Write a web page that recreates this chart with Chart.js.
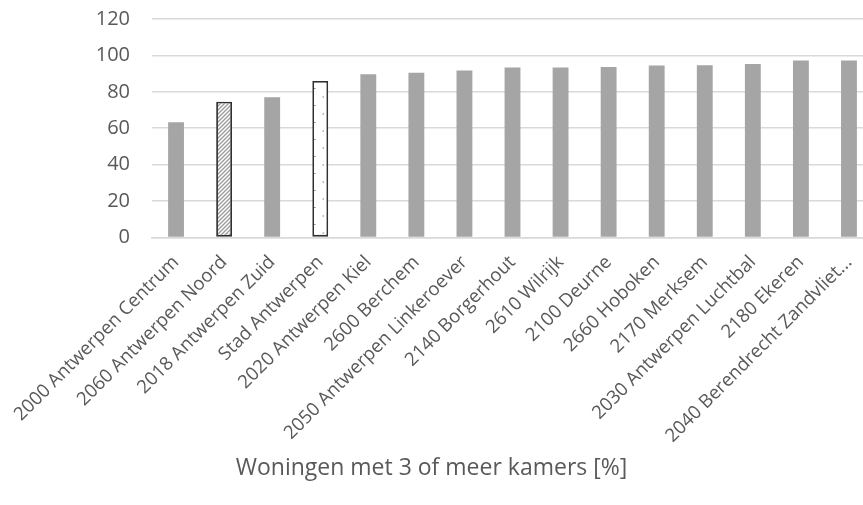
<!DOCTYPE html>
<html>
<head>
<meta charset="utf-8">
<script src="https://cdn.jsdelivr.net/npm/chart.js@4"></script>
<style>
  body { margin: 0; background: #fff; }
</style>
</head>
<body>
<canvas id="chart" width="863" height="505"></canvas>
<script>
// Data
const wijken = [
  "2000 Antwerpen Centrum", "2060 Antwerpen Noord", "2018 Antwerpen Zuid",
  "Stad Antwerpen", "2020 Antwerpen Kiel", "2600 Berchem",
  "2050 Antwerpen Linkeroever", "2140 Borgerhout", "2610 Wilrijk",
  "2100 Deurne", "2660 Hoboken", "2170 Merksem",
  "2030 Antwerpen Luchtbal", "2180 Ekeren", "2040 Berendrecht Zandvliet..."
];
const percentages = [63.3, 74.5, 77, 86, 89.6, 90.4, 91.7, 93.3, 93.3, 93.6, 94.4, 94.6, 95.3, 97.2, 97.2];
const yTicks = [0, 20, 40, 60, 80, 100, 120];
const axisTitle = "Woningen met 3 of meer kamers [%]";

// patterns for the two highlighted bars
function hatchPattern() {
  let c = document.createElement('canvas');
  c.width = 4; c.height = 4;
  let ctx = c.getContext('2d');
  ctx.fillStyle = '#ffffff';
  ctx.fillRect(0, 0, 4, 4);
  ctx.strokeStyle = '#9a9a9a';
  ctx.lineWidth = 1.3;
  ctx.beginPath();
  ctx.moveTo(-1, 5); ctx.lineTo(5, -1);
  ctx.moveTo(-3, 3); ctx.lineTo(3, -3);
  ctx.moveTo(1, 7); ctx.lineTo(7, 1);
  ctx.stroke();
  return ctx.createPattern(c, 'repeat');
}

function dotPattern() {
  let c = document.createElement('canvas');
  c.width = 18; c.height = 17;
  let ctx = c.getContext('2d');
  ctx.fillStyle = '#ffffff';
  ctx.fillRect(0, 0, 18, 17);
  ctx.fillStyle = '#7f7f7f';
  ctx.fillRect(8, 3, 1.5, 1);
  ctx.fillRect(16.5, 11.5, 1.5, 1);
  return ctx.createPattern(c, 'repeat');
}

let fills = wijken.map(function (w, i) {
  if (i === 1) return hatchPattern();
  if (i === 3) return dotPattern();
  return '#a5a5a5';
});
let borders = wijken.map(function (w, i) {
  return (i === 1 || i === 3) ? '#303030' : '#a5a5a5';
});
let borderWidths = wijken.map(function (w, i) {
  return (i === 1 || i === 3) ? 1.8 : 0;
});

let textColor = '#595959';
let family = "'Open Sans', sans-serif";

// the original picture is cropped on the right: let the plot run past the edge
let widenPlot = {
  id: 'widenPlot',
  afterLayout: function (chart) {
    let extra = 10;
    let x = chart.scales.x;
    x.right += extra;
    x.width += extra;
    x.configure();
    chart.chartArea.right += extra;
    chart.chartArea.width += extra;
  }
};

new Chart(document.getElementById('chart').getContext('2d'), {
  type: 'bar',
  data: {
    labels: wijken,
    datasets: [{
      data: percentages,
      backgroundColor: fills,
      borderColor: borders,
      borderWidth: borderWidths,
      borderSkipped: false,
      barPercentage: 0.33,
      categoryPercentage: 1
    }]
  },
  plugins: [widenPlot],
  options: {
    responsive: false,
    animation: false,
    layout: { padding: { top: 19, right: 0, left: 0, bottom: 0 } },
    plugins: {
      legend: { display: false },
      tooltip: { enabled: false },
      title: {
        display: true, position: 'bottom', text: axisTitle, color: textColor,
        font: { family: family, size: 23, weight: 'normal' },
        padding: { top: 0, bottom: 23 }
      }
    },
    scales: {
      x: {
        grid: { display: false, drawTicks: false },
        border: { display: true, color: '#d9d9d9', width: 1.5 },
        ticks: {
          color: textColor, font: { family: family, size: 18.6 },
          minRotation: 45, maxRotation: 45, autoSkip: false, padding: 14
        },
        afterFit: function (scale) {
          scale.height = 217;
          scale.paddingLeft = 0; scale.paddingRight = 0;
          scale.paddingTop = 0; scale.paddingBottom = 0;
        }
      },
      y: {
        min: 0, max: 120,
        afterBuildTicks: function (scale) {
          scale.ticks = yTicks.map(function (v) { return { value: v }; });
        },
        grid: { color: '#d9d9d9', lineWidth: 1.5, drawTicks: false },
        border: { display: false },
        ticks: { color: textColor, font: { family: family, size: 20 }, padding: 22 },
        afterFit: function (scale) {
          scale.width = 152;
          scale.paddingTop = 0; scale.paddingBottom = 0;
        }
      }
    }
  }
});
</script>
</body>
</html>
